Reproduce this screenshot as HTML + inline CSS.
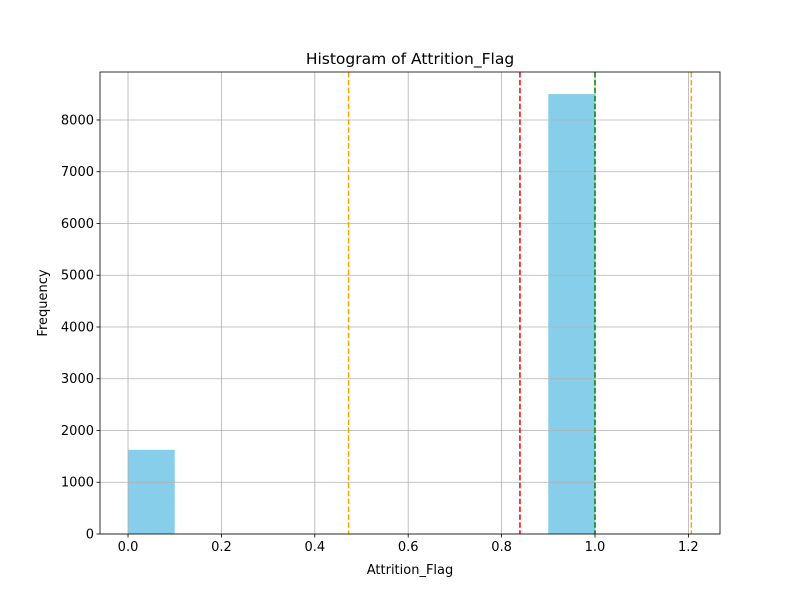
<!DOCTYPE html>
<html><head><meta charset="utf-8"><style>
body{margin:0;background:#fff;font-family:"Liberation Sans","DejaVu Sans",sans-serif}
</style></head><body>
<svg id="chart" width="800" height="600" xmlns="http://www.w3.org/2000/svg" font-family="DejaVu Sans, Liberation Sans, sans-serif"></svg>
<script>
const binStarts=[0.0,0.1,0.2,0.3,0.4,0.5,0.6,0.7,0.8,0.9];
const binCounts=[1627,0,0,0,0,0,0,0,0,8500];
const xTicks=[0.0,0.2,0.4,0.6,0.8,1.0,1.2];
const yTicks=[0,1000,2000,3000,4000,5000,6000,7000,8000];
const meanVal=[0.8393];
const medianVal=[1.0];
const stdBounds=[0.4723,1.2063];
const binWidth=0.1;
const L=100,R=720,T=72,B=534;
const xmin=-0.06,xmax=1.2677,ymin=0,ymax=8927;
const sx=v=>L+(v-xmin)/(xmax-xmin)*(R-L);
const sy=v=>B-(v-ymin)/(ymax-ymin)*(B-T);
const svg=document.getElementById('chart');
const NS='http://www.w3.org/2000/svg';
function mk(tag,attrs,name,parent){const e=document.createElementNS(NS,tag);for(const k in attrs)e.setAttribute(k,attrs[k]);


(parent||svg).appendChild(e);return e;}
// bars
binStarts.forEach((s,i)=>{if(binCounts[i]>0)mk('rect',{x:sx(s),y:sy(binCounts[i]),width:sx(s+binWidth)-sx(s),height:sy(0)-sy(binCounts[i]),fill:'#87ceeb'},'histogram-bar');});
// grid (drawn over bars)
xTicks.forEach(t=>{mk('line',{x1:sx(t),x2:sx(t),y1:T,y2:B,stroke:'#b0b0b0','stroke-width':0.8},'x-grid-line');});
yTicks.forEach(t=>{mk('line',{x1:L,x2:R,y1:sy(t),y2:sy(t),stroke:'#b0b0b0','stroke-width':0.8},'y-grid-line');});
// lines
stdBounds.forEach(v=>mk('line',{x1:sx(v),x2:sx(v),y1:T,y2:B,stroke:'#ffa500','stroke-width':1.5,'stroke-dasharray':'5.5,2.4'},'std-line'));
meanVal.forEach(v=>mk('line',{x1:sx(v),x2:sx(v),y1:T,y2:B,stroke:'#ff0000','stroke-width':1.5,'stroke-dasharray':'5.5,2.4'},'mean-line'));
medianVal.forEach(v=>mk('line',{x1:sx(v),x2:sx(v),y1:T,y2:B,stroke:'#008000','stroke-width':1.5,'stroke-dasharray':'5.5,2.4'},'median-line'));
// frame
mk('rect',{x:L,y:T,width:R-L,height:B-T,fill:'none',stroke:'#000','stroke-width':0.8},'plot-frame');
// ticks
xTicks.forEach(t=>{mk('line',{x1:sx(t),x2:sx(t),y1:B,y2:B+3.5,stroke:'#000','stroke-width':0.8},'x-tick');
const tx=mk('text',{x:sx(t),y:B+17,'text-anchor':'middle','font-size':13},'x-tick-label');tx.textContent=t.toFixed(1);});
yTicks.forEach(t=>{mk('line',{x1:L-3.5,x2:L,y1:sy(t),y2:sy(t),stroke:'#000','stroke-width':0.8},'y-tick');
const tx=mk('text',{x:L-6,y:sy(t)+4.5,'text-anchor':'end','font-size':13},'y-tick-label');tx.textContent=t;});
const xt=mk('text',{x:410,y:574,'text-anchor':'middle','font-size':13},'x-axis-title');xt.textContent='Attrition_Flag';
const yt=mk('text',{x:47,y:303,'text-anchor':'middle','font-size':13,transform:'rotate(-90 47 303)'},'y-axis-title');yt.textContent='Frequency';
const tt=mk('text',{x:410,y:64,'text-anchor':'middle','font-size':15.5},'chart-title');tt.textContent='Histogram of Attrition_Flag';
</script>
</body></html>
